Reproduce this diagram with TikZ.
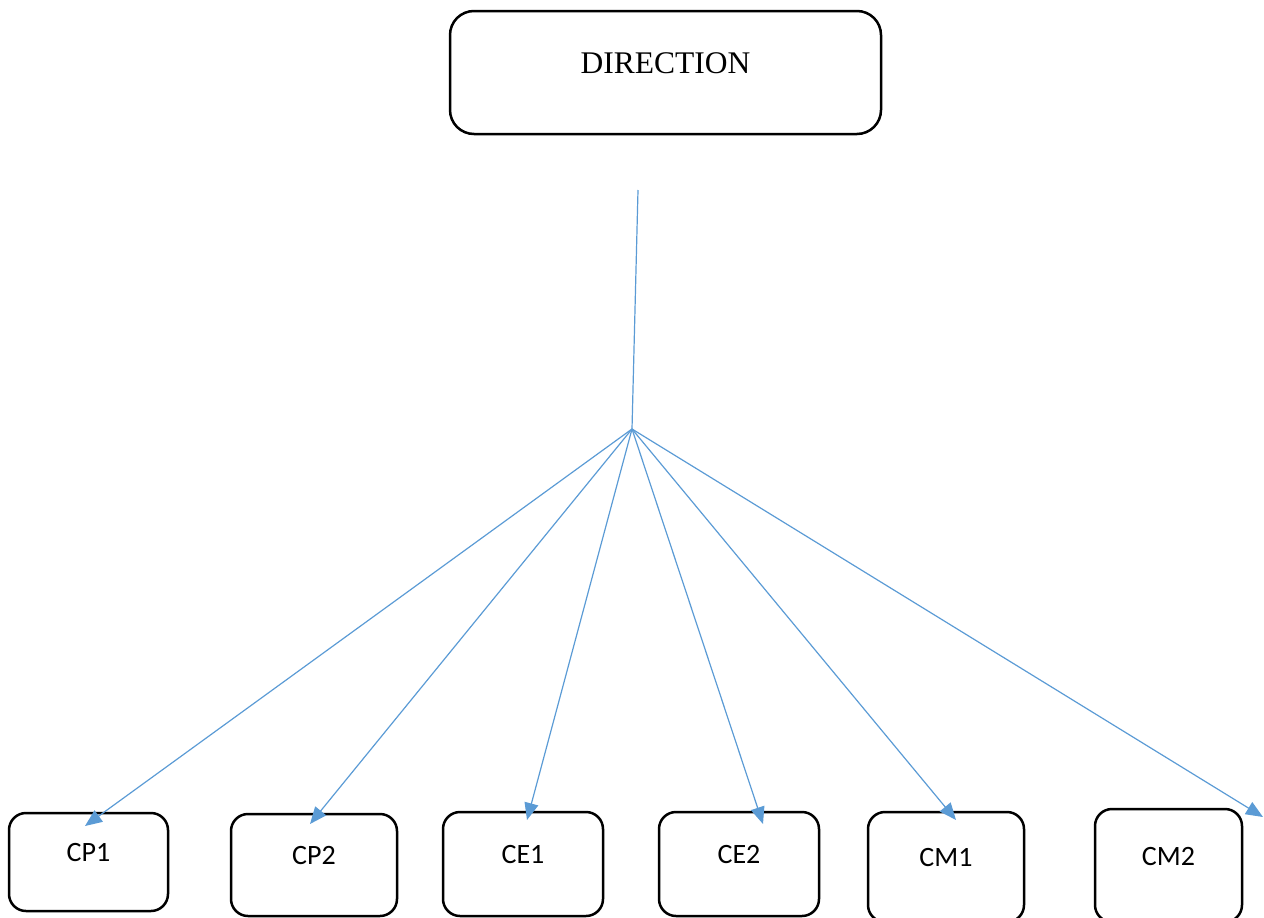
\documentclass[tikz,border=0pt]{standalone}
\usepackage{fontspec}
\setmainfont{Liberation Serif}
\newfontfamily\unitfont{Carlito}
\usetikzlibrary{arrows.meta}
\definecolor{ink}{HTML}{000000}
\definecolor{linkblue}{HTML}{5B9BD5}
\newcommand{\HeadF}{\fontsize{31.5}{38}\selectfont}
\newcommand{\UnitF}{\unitfont\fontsize{28}{34}\selectfont}
\newcommand{\unitbox}[6]{%
  \node[unit, minimum width=#4pt, minimum height=#5pt] (#1) at (#2,#3) {#6};
}

\begin{document}
\begin{tikzpicture}[x=1pt,y=-1pt,
  headbox/.style={draw=ink, line width=2.5pt, rounded corners=24pt, inner sep=0pt, outer sep=0pt,
    font=\HeadF, text height=21pt, text depth=20pt},
  unit/.style={draw=ink, line width=2.5pt, rounded corners=17pt, inner sep=0pt, outer sep=0pt,
    font=\UnitF, text height=19pt, text depth=20pt},
  link/.style={draw=linkblue, line width=1.2pt, -{Triangle[length=17pt, width=14pt]}}]
\useasboundingbox (0,0) rectangle (1264,918);
\node[headbox, minimum width=431pt, minimum height=123pt] (dir) at (665.5,72.5) {DIRECTION};
\unitbox{cp1}{88.5}{862}{159}{98}{CP1}
\unitbox{cp2}{314}{865}{166}{102}{CP2}
\unitbox{ce1}{523}{864}{160}{104}{CE1}
\unitbox{ce2}{739}{864}{160}{104}{CE2}
\unitbox{cm1}{946}{867}{156}{110}{CM1}
\unitbox{cm2}{1168.5}{865.5}{147}{113}{CM2}
\coordinate (stem) at (638,190);
\coordinate (hub) at (632,429);
\draw[link, -] (stem) -- (hub);
\draw[link] (hub) -- ([shift={(-3.5,13)}]cp1.north);
\draw[link] (hub) -- ([shift={(-4,10)}]cp2.north);
\draw[link] (hub) -- ([shift={(4,8)}]ce1.north);
\draw[link] (hub) -- ([shift={(24,12)}]ce2.north);
\draw[link] (hub) -- ([shift={(10,8)}]cm1.north);
\draw[link] (hub) -- ([shift={(94.5,8)}]cm2.north);
\end{tikzpicture}
\end{document}
